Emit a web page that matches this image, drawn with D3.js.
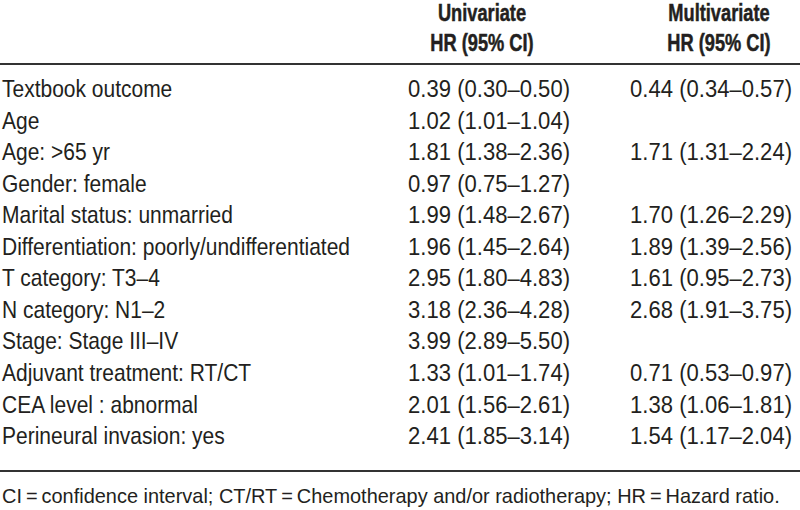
<!DOCTYPE html>
<html><head><meta charset="utf-8">
<script src="https://cdn.jsdelivr.net/npm/d3@7"></script>
<style>
html,body{margin:0;padding:0;background:#fff;}
svg text{font-family:"Liberation Sans Narrow","Arial Narrow","Liberation Sans",Arial,sans-serif;fill:#231f20;}
</style></head>
<body><svg id="c" width="800" height="510"></svg>
<script>
const variables = ["Textbook outcome","Age","Age: >65 yr","Gender: female","Marital status: unmarried","Differentiation: poorly/undifferentiated","T category: T3\u20134","N category: N1\u20132","Stage: Stage III\u2013IV","Adjuvant treatment: RT/CT","CEA level : abnormal","Perineural invasion: yes"];
const uniHR  = [0.39,1.02,1.81,0.97,1.99,1.96,2.95,3.18,3.99,1.33,2.01,2.41];
const uniLo  = [0.30,1.01,1.38,0.75,1.48,1.45,1.80,2.36,2.89,1.01,1.56,1.85];
const uniHi  = [0.50,1.04,2.36,1.27,2.67,2.64,4.83,4.28,5.50,1.74,2.61,3.14];
const multiHR = [0.44,null,1.71,null,1.70,1.89,1.61,2.68,null,0.71,1.38,1.54];
const multiLo = [0.34,null,1.31,null,1.26,1.39,0.95,1.91,null,0.53,1.06,1.17];
const multiHi = [0.57,null,2.24,null,2.29,2.56,2.73,3.75,null,0.97,1.81,2.04];
const headers = [["Univariate","HR (95% CI)"],["Multivariate","HR (95% CI)"]];
const footnote = "CI\u2009=\u2009confidence interval;  CT/RT\u2009=\u2009Chemotherapy and/or radiotherapy;  HR\u2009=\u2009Hazard ratio.";

const svg = d3.select("#c");
const fmt = d3.format(".2f");
const cell = (h,l,u) => h==null ? "" : `${fmt(h)} (${fmt(l)}\u2013${fmt(u)})`;

// row baselines
const y = d3.scaleBand().domain(d3.range(variables.length)).range([97, 97 + 31.55*variables.length]);
const cols = [{right:570, center:482}, {right:792, center:719}];

function txt(sel, x, yy, t, opt){
  const e = sel.append("text")
    .attr("transform", `translate(${x},${yy}) scale(${opt.sx},1)`)
    .attr("text-anchor", opt.anchor || "start")
    .style("font-size", opt.size + "px")
    .text(t);
  if (opt.bold) e.style("font-weight","bold").style("stroke","#231f20").style("stroke-width","0.5px");
  return e;
}

// header
headers.forEach((h,i)=>{
  h.forEach((t,j)=>{
    txt(svg, cols[i].center, 21 + 30*j, t, {sx:0.76, size:24, anchor:"middle", bold:true});
  });
});
svg.append("line").attr("x1",0).attr("x2",800).attr("y1",64).attr("y2",64).attr("stroke","#333").attr("stroke-width",2);
svg.append("line").attr("x1",0).attr("x2",800).attr("y1",471).attr("y2",471).attr("stroke","#333").attr("stroke-width",2);

variables.forEach((d,i)=>{
  const yy = y(i);
  txt(svg, 2, yy, d, {sx:0.875, size:24});
  txt(svg, cols[0].right, yy, cell(uniHR[i],uniLo[i],uniHi[i]), {sx:0.92, size:24, anchor:"end"});
  txt(svg, cols[1].right, yy, cell(multiHR[i],multiLo[i],multiHi[i]), {sx:0.92, size:24, anchor:"end"});
});

txt(svg, 2, 503, footnote, {sx:0.95, size:21});
</script></body></html>
